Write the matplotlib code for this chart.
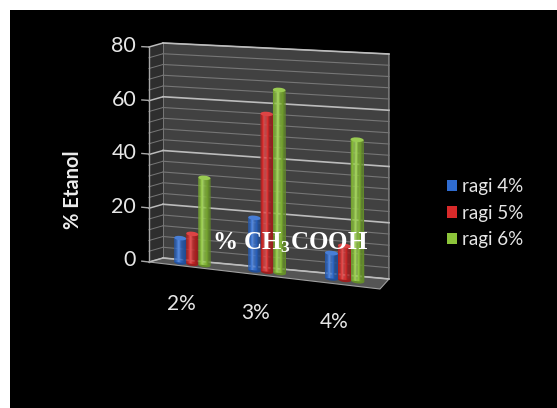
import numpy as np
import matplotlib
matplotlib.use("Agg")
import matplotlib.pyplot as plt
import matplotlib.transforms as mtransforms
from matplotlib.patches import Rectangle, Ellipse, Patch

# ---- data -------------------------------------------------------------
categories = ["2%", "3%", "4%"]
series_names = ["ragi 4%", "ragi 5%", "ragi 6%"]
ragi4 = [9, 19, 9]
ragi5 = [11, 57, 12]
ragi6 = [32, 66, 50]
y_ticks = [0, 20, 40, 60, 80]
y_label = "% Etanol"
x_label = r"% CH$_3$COOH"

colors = ["#2f6cd0", "#d82a2a", "#8cc43a"]

W, H = 557, 408
plt.rcParams["mathtext.fontset"] = "custom"
plt.rcParams["mathtext.rm"] = "Liberation Serif:bold"
plt.rcParams["mathtext.it"] = "Liberation Serif:bold"
plt.rcParams["mathtext.bf"] = "Liberation Serif:bold"


class Homography(mtransforms.Transform):
    """Projective map from the unit square onto a quadrilateral (image pixels)."""
    input_dims = output_dims = 2
    is_separable = False

    def __init__(self, quad):
        super().__init__()
        src = [(0, 0), (1, 0), (1, 1), (0, 1)]
        A, b = [], []
        for (u, v), (x, y) in zip(src, quad):
            A.append([u, v, 1, 0, 0, 0, -u * x, -v * x]); b.append(x)
            A.append([0, 0, 0, u, v, 1, -u * y, -v * y]); b.append(y)
        h = np.linalg.solve(np.array(A, float), np.array(b, float))
        self.Hm = np.append(h, 1.0).reshape(3, 3)

    def transform_non_affine(self, values):
        v = np.atleast_2d(np.asarray(values, float))
        p = np.column_stack([v, np.ones(len(v))]) @ self.Hm.T
        return p[:, :2] / p[:, 2:3]


fig = plt.figure(figsize=(W / 100, H / 100), dpi=100, facecolor="white")
fig.add_artist(Rectangle((10 / W, 0), 1, 1 - 10 / H, transform=fig.transFigure,
                         facecolor="black", edgecolor="none", zorder=-10))

ax = fig.add_axes([0, 0, 1, 1])
ax.set_axis_off()
ax.set_autoscale_on(False)
ax.set_xlim(0, len(categories))
ax.set_ylim(0, 80)

pix2fig = mtransforms.Affine2D().scale(1 / W, -1 / H).translate(0, 1) + fig.transFigure


def plane(quad, dx=0, dy=0):
    return (ax.transScale + ax.transLimits + Homography(quad)
            + mtransforms.Affine2D().translate(dx, dy) + pix2fig)


# quads: bottom-left, bottom-right, top-right, top-left (image pixel coords)
front_q = [(149, 262), (380, 289), (378, 59), (149, 47)]
back_q = [(163, 258), (389, 279), (389, 54), (163, 43)]
bar_q = [tuple((np.array(a) + np.array(b)) / 2) for a, b in zip(front_q, back_q)]
side_q = [front_q[0], back_q[0], back_q[3], front_q[3]]   # x = depth
floor_q = [front_q[0], front_q[1], back_q[1], back_q[0]]  # y = depth

t_wall = plane(back_q)
t_side = plane(side_q)
t_floor = plane(floor_q)
t_bar = plane(bar_q)
t_front = plane(front_q)

ncat = len(categories)

# back wall, side wall and floor
ax.add_patch(Rectangle((0, 0), ncat, 80, transform=t_wall,
                       facecolor="#414141", edgecolor="#a0a0a0", lw=0.8, zorder=1))
ax.add_patch(Rectangle((0, 0), ncat, 80, transform=t_side,
                       facecolor="#2e2e2e", edgecolor="none", zorder=1))
ax.add_patch(Rectangle((0, 0), ncat, 80, transform=t_floor,
                       facecolor="#555555", edgecolor="#a0a0a0", lw=0.8, zorder=1))

# gridlines: minor every 4, major every 20
for val in np.arange(0, 81, 4):
    major = val % 20 == 0
    col = "#bcbcbc" if major else "#767676"
    lw = 1.2 if major else 0.8
    ax.plot([0, ncat], [val, val], transform=t_wall, color=col, lw=lw, zorder=2)
    ax.plot([0, ncat], [val, val], transform=t_side, color=col, lw=lw * 0.9, zorder=2)

# front value axis with tick marks and labels
ax.plot([0, 0], [0, 80], transform=t_front, color="#a8a8a8", lw=1.0, zorder=3)
for val in y_ticks:
    ax.plot([-0.1, 0], [val, val], transform=t_front, color="#a8a8a8", lw=1.0, zorder=3)
    ax.text(-0.18, val, str(val), transform=t_front, ha="right", va="center",
            fontsize=15.5, color="#e6e6e6", family="Lato", zorder=5)

ax.text(73 / W, 1 - 190 / H, y_label, transform=fig.transFigure, rotation=90,
        ha="center", va="center", fontsize=14.5, fontweight="bold",
        color="#ededed", family="Lato")

# category labels below the floor
for i, cat in enumerate(categories):
    ax.text(i + 0.44, 0, cat, transform=plane(front_q, 0, 38), ha="center",
            va="center", fontsize=15, color="#e6e6e6", family="Lato", zorder=5)

# cylindrical columns drawn as shaded strips
bw = 0.165
nstrip = 10
offsets = [-bw, 0, bw]
values = [ragi4, ragi5, ragi6]


def shade(base, f):
    rgb = np.array(matplotlib.colors.to_rgb(base))
    if f >= 1:
        return tuple(rgb + (1 - rgb) * (f - 1))
    return tuple(rgb * f)


for s, (vals, col) in enumerate(zip(values, colors)):
    centers = np.arange(ncat) + 0.5 + offsets[s]
    for c, v in zip(centers, vals):
        ax.add_patch(Ellipse((c, 0), bw, 1.6, transform=t_bar,
                             facecolor=shade(col, 0.72), edgecolor="none",
                             zorder=6 + s))
    for k in range(nstrip):
        t = (k + 0.5) / nstrip
        f = 0.7 + 0.48 * np.exp(-((t - 0.38) / 0.28) ** 2)
        xs = np.arange(ncat) + 0.5 + offsets[s] - bw / 2 + k * bw / nstrip
        ax.bar(xs, vals, width=bw / nstrip * 1.05, align="edge", bottom=0,
               transform=t_bar, color=shade(col, f), edgecolor="none",
               zorder=6 + s)
    for c, v in zip(centers, vals):
        ax.add_patch(Ellipse((c, v), bw, 1.6, transform=t_bar,
                             facecolor=shade(col, 1.12), edgecolor="none",
                             zorder=6 + s))

# axis title across the plot
ax.text(290 / W, 1 - 243 / H, x_label, transform=fig.transFigure, ha="center",
        va="center", fontsize=18, color="white", family="Liberation Serif",
        fontweight="bold", zorder=20)

# legend
handles = [Patch(facecolor=c, edgecolor="none") for c in colors]
leg = ax.legend(handles, series_names, loc="center left",
                bbox_to_anchor=(447 / W, 1 - 213 / H), frameon=False,
                handlelength=0.55, handleheight=0.55, handletextpad=0.25,
                labelspacing=0.5, prop={"family": "Lato", "size": 13.5},
                labelcolor="#e6e6e6", borderaxespad=0, borderpad=0)

fig.savefig("out.png", dpi=100, facecolor="white")
